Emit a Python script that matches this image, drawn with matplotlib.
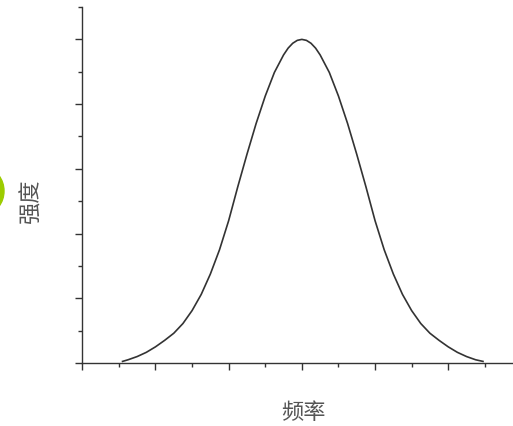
import numpy as np
import matplotlib.pyplot as plt
from matplotlib.patches import Ellipse
from matplotlib.ticker import MultipleLocator, NullFormatter

plt.rcParams['font.family'] = ['Noto Sans CJK SC', 'DejaVu Sans']

# curve (x in tick units, peak = 10)
freq = [1.1, 1.25, 1.5, 1.75, 2.0, 2.25, 2.5, 2.75, 3.0, 3.25, 3.5, 3.75,
        4.0, 4.25, 4.5, 4.75, 5.0, 5.25, 5.5, 5.625, 5.75, 5.875, 6.0,
        6.125, 6.25, 6.375, 6.5, 6.75, 7.0, 7.25, 7.5, 7.75, 8.0, 8.25,
        8.5, 8.75, 9.0, 9.25, 9.5, 9.75, 10.0, 10.25, 10.5, 10.75, 10.95]
intensity = [0.05, 0.10, 0.20, 0.33, 0.50, 0.70, 0.92, 1.22, 1.62, 2.12, 2.75, 3.50,
             4.40, 5.45, 6.45, 7.40, 8.25, 8.98, 9.52, 9.73, 9.88, 9.97, 10.0,
             9.97, 9.88, 9.73, 9.52, 8.98, 8.25, 7.40, 6.45, 5.45, 4.40, 3.50,
             2.75, 2.12, 1.62, 1.22, 0.92, 0.70, 0.50, 0.33, 0.20, 0.10, 0.05]

xlabel = '频率'
ylabel = '强度'

fig = plt.figure(figsize=(5.13, 4.27), dpi=100)
ax = fig.add_axes([0.1604, 0.1475, 0.8396, 0.8337])

ax.plot(freq, intensity, color='#333333', lw=1.2)

ax.set_xlim(0, 11.77)
ax.set_ylim(0, 11)
for s in ['top', 'right']:
    ax.spines[s].set_visible(False)
for s in ['left', 'bottom']:
    ax.spines[s].set_color('#333333')
    ax.spines[s].set_linewidth(1.0)

ax.xaxis.set_major_locator(MultipleLocator(2))
ax.xaxis.set_minor_locator(MultipleLocator(1))
ax.yaxis.set_major_locator(MultipleLocator(2))
ax.yaxis.set_minor_locator(MultipleLocator(1))
ax.xaxis.set_major_formatter(NullFormatter())
ax.yaxis.set_major_formatter(NullFormatter())
ax.tick_params(which='major', length=5, width=1.0, color='#333333', direction='out')
ax.tick_params(which='minor', length=2.7, width=1.0, color='#333333', direction='out')

fig.text(0.060, 0.529, ylabel, rotation=90, ha='center', va='center',
         fontsize=16, color='#555555')
fig.text(0.591, 0.033, xlabel, ha='center', va='center',
         fontsize=16, color='#555555')

# green blob cut off at the left edge
blob = Ellipse((-14, 235), 36, 44, transform=None, color='#9ccc00')
fig.add_artist(blob)

fig.savefig('out.png', dpi=100)
